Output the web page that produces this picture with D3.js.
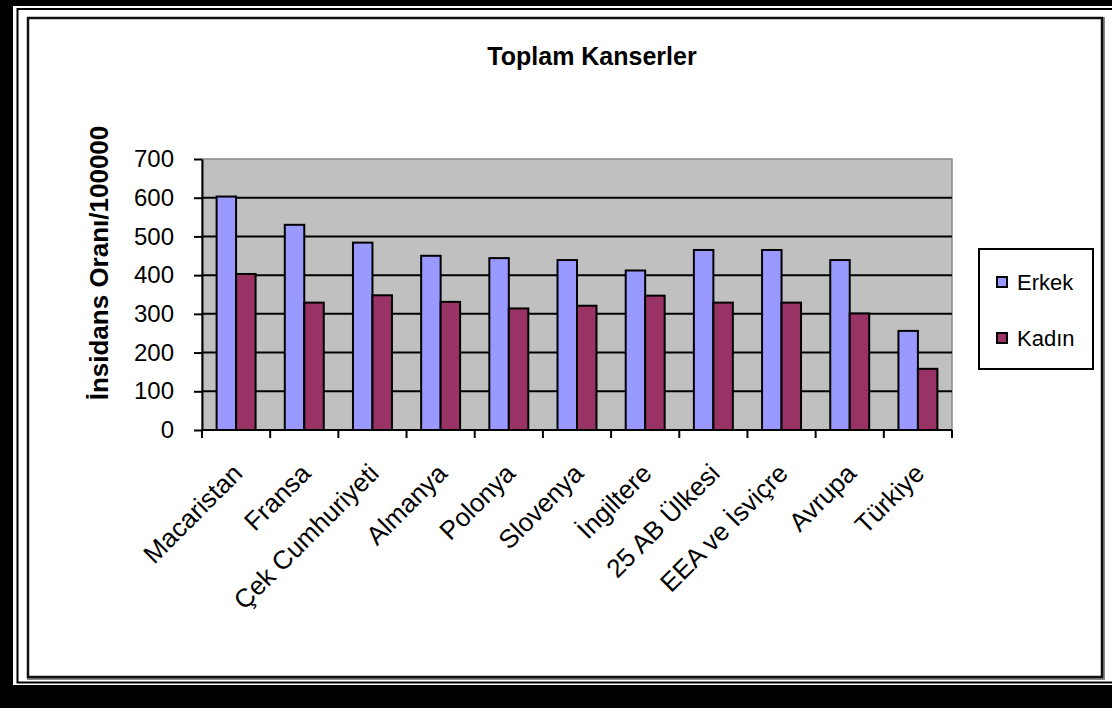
<!DOCTYPE html>
<html>
<head>
<meta charset="utf-8">
<script src="https://cdn.jsdelivr.net/npm/d3@7"></script>
<style>
  html, body { margin: 0; padding: 0; background: #fff; }
  svg { display: block; font-family: Arial, "Liberation Sans", sans-serif; }
</style>
</head>
<body>
<svg id="chart" width="1112" height="708"></svg>
<script>
// Cancer incidence per 100 000, by country/region and sex
const categories = ["Macaristan", "Fransa", "Çek Cumhuriyeti", "Almanya", "Polonya", "Slovenya",
                    "İngiltere", "25 AB Ülkesi", "EEA ve İsviçre", "Avrupa", "Türkiye"];
const seriesNames = ["Erkek", "Kadın"];
const erkek = [603, 530, 484, 450, 444, 439, 412, 465, 465, 439, 256];
const kadin = [403, 329, 348, 331, 314, 321, 347, 329, 329, 301, 158];
const yTicks = [0, 100, 200, 300, 400, 500, 600, 700];
const colors = ["#9999FF", "#993366"];

const svg = d3.select("#chart");

// page frame: heavy outer border, thin rule, then the chart area box
svg.append("rect").attr("x", 0).attr("y", 0).attr("width", 1112).attr("height", 708).attr("fill", "#000");
svg.append("rect").attr("x", 13).attr("y", 6).attr("width", 1112).attr("height", 679).attr("fill", "#fff");
svg.append("rect").attr("x", 17.5).attr("y", 9).attr("width", 1112).attr("height", 673.5)
   .attr("fill", "none").attr("stroke", "#000").attr("stroke-width", 2);
svg.append("rect").attr("x", 29).attr("y", 19).attr("width", 1074).attr("height", 659)
   .attr("fill", "#fff").attr("stroke", "#888").attr("stroke-width", 4);
svg.append("rect").attr("x", 28).attr("y", 18).attr("width", 1074).attr("height", 659)
   .attr("fill", "#fff").attr("stroke", "#111").attr("stroke-width", 2.5);

const plot = { left: 202, right: 952, top: 159, bottom: 430 };

const y = d3.scaleLinear().domain([0, 700]).range([plot.bottom, plot.top]);
const x = d3.scaleBand().domain(categories).range([plot.left, plot.right]).padding(0);
const xs = d3.scaleBand().domain(seriesNames).range([0, x.bandwidth()])
   .paddingInner(0).paddingOuter(0.75);

// plot area
svg.append("rect").attr("x", plot.left).attr("y", plot.top)
   .attr("width", plot.right - plot.left).attr("height", plot.bottom - plot.top)
   .attr("fill", "#C0C0C0").attr("stroke", "#8a8a8a").attr("stroke-width", 1.5);

// gridlines
svg.append("g").selectAll("line").data(yTicks.filter(d => d > 0 && d < 700)).join("line")
   .attr("x1", plot.left).attr("x2", plot.right)
   .attr("y1", d => y(d)).attr("y2", d => y(d))
   .attr("stroke", "#000").attr("stroke-width", 2);

// bars
const groups = svg.append("g").selectAll("g").data(categories).join("g")
   .attr("transform", d => `translate(${x(d)},0)`);
groups.selectAll("rect")
   .data((d, i) => [{ s: "Erkek", v: erkek[i], c: colors[0] }, { s: "Kadın", v: kadin[i], c: colors[1] }])
   .join("rect")
   .attr("x", d => xs(d.s)).attr("width", xs.bandwidth())
   .attr("y", d => y(d.v)).attr("height", d => y(0) - y(d.v))
   .attr("fill", d => d.c).attr("stroke", "#000").attr("stroke-width", 2);

// y axis
const yAxis = d3.axisLeft(y).tickValues(yTicks).tickSize(8).tickPadding(20).tickSizeOuter(0);
const gy = svg.append("g").attr("transform", `translate(${plot.left},0)`).call(yAxis);
gy.select(".domain").attr("stroke", "#000").attr("stroke-width", 2);
gy.selectAll(".tick line").attr("stroke", "#000").attr("stroke-width", 2);
gy.selectAll(".tick text").attr("font-size", 24).attr("fill", "#000")
   .attr("font-family", "Arial, 'Liberation Sans', sans-serif");

// x axis: ticks at category boundaries
const boundaries = categories.map(c => x(c)).concat([x.range()[1]]);
svg.append("line").attr("x1", plot.left).attr("x2", plot.right)
   .attr("y1", plot.bottom).attr("y2", plot.bottom).attr("stroke", "#000").attr("stroke-width", 2);
svg.append("g").selectAll("line").data(boundaries).join("line")
   .attr("x1", d => d).attr("x2", d => d).attr("y1", plot.bottom).attr("y2", plot.bottom + 8)
   .attr("stroke", "#000").attr("stroke-width", 2);

// category labels, rotated
svg.append("g").selectAll("text").data(categories).join("text")
   .attr("transform", d => `translate(${x(d) + x.bandwidth() / 2 + 8},${plot.bottom + 45}) rotate(-45)`)
   .attr("text-anchor", "end")
   .attr("font-size", 26).attr("fill", "#000")
   .text(d => d);

// title
svg.append("text").attr("x", 592).attr("y", 65).attr("text-anchor", "middle")
   .attr("font-size", 25).attr("font-weight", "bold").text("Toplam Kanserler");

// y axis title
svg.append("text").attr("transform", "translate(108,263) rotate(-90)").attr("text-anchor", "middle")
   .attr("font-size", 26).attr("font-weight", "bold").text("İnsidans Oranı/100000");

// legend
const lg = svg.append("g");
lg.append("rect").attr("x", 979).attr("y", 249).attr("width", 114).attr("height", 120)
  .attr("fill", "#fff").attr("stroke", "#000").attr("stroke-width", 2);
const items = lg.selectAll("g").data(seriesNames).join("g")
  .attr("transform", (d, i) => `translate(0,${282 + i * 56})`);
items.append("rect").attr("x", 997).attr("y", -5).attr("width", 10).attr("height", 10)
  .attr("fill", (d, i) => colors[i]).attr("stroke", "#000").attr("stroke-width", 2);
items.append("text").attr("x", 1017).attr("y", 8).attr("font-size", 22).text(d => d);
</script>
</body>
</html>
